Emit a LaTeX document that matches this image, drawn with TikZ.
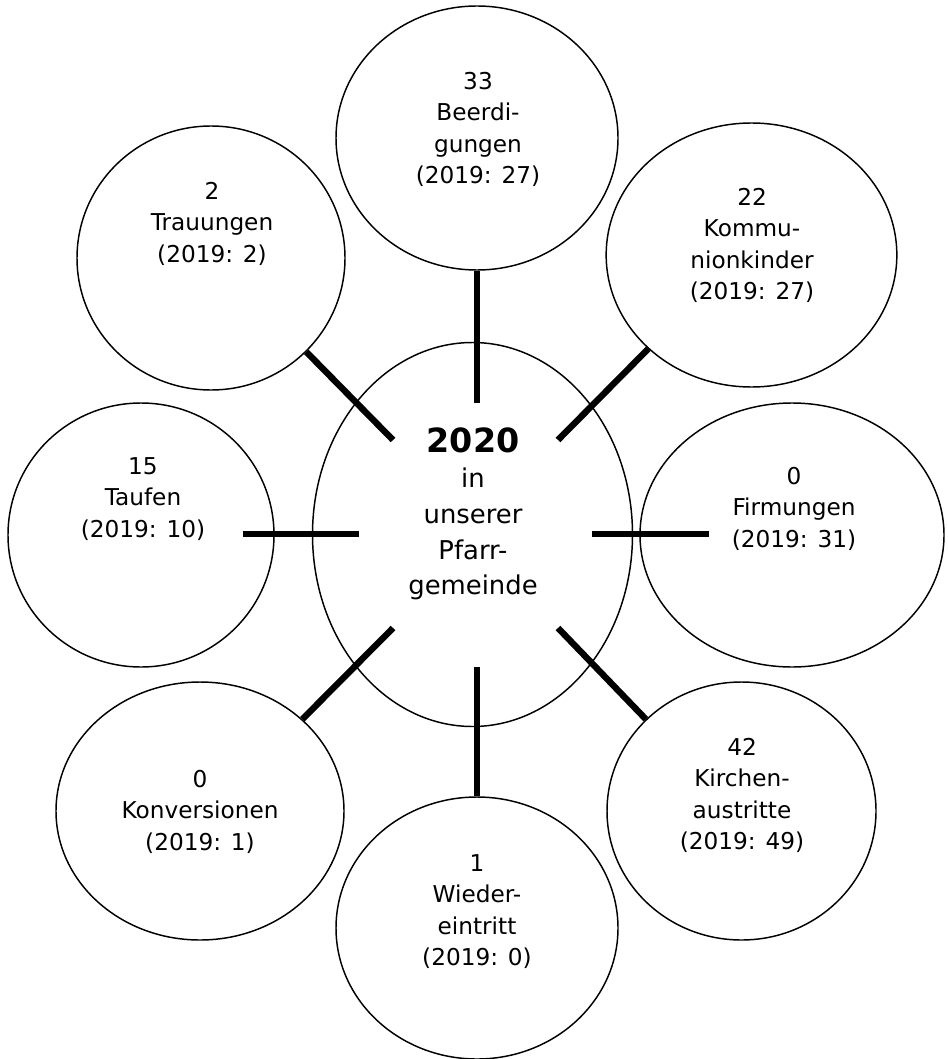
\documentclass[tikz,border=0pt]{standalone}
\usepackage{fontspec}
\setmainfont{DejaVu Sans}
\usepackage{tikz}
\usetikzlibrary{shapes.geometric, positioning}
\tikzstyle{bubble} = [ellipse, draw, line width=1.1pt, inner sep=0pt]
\tikzstyle{count} = [align=center, inner sep=0pt, anchor=north,
                     font=\fontsize{17.4}{23.6}\selectfont]
\tikzstyle{spoke} = [line width=4.8pt]

\begin{document}
\begin{tikzpicture}[x=0.75pt, y=-0.75pt]
    \useasboundingbox (0,0) rectangle (947,1059);

    % Bubbles
    \node[bubble, minimum width=240pt, minimum height=288pt] (mitte) at (472.5,534.5) {};
    \node[bubble, minimum width=211.5pt, minimum height=198pt] (beerdigungen) at (477,138) {};
    \node[bubble, minimum width=201pt, minimum height=198pt] (trauungen) at (211,258) {};
    \node[bubble, minimum width=218pt, minimum height=198pt] (kommunion) at (751.5,255) {};
    \node[bubble, minimum width=199.5pt, minimum height=198pt] (taufen) at (141,535) {};
    \node[bubble, minimum width=228pt, minimum height=198pt] (firmungen) at (792,535) {};
    \node[bubble, minimum width=216pt, minimum height=193.5pt] (konversionen) at (200,811) {};
    \node[bubble, minimum width=201.75pt, minimum height=193.5pt] (austritte) at (741.5,811) {};
    \node[bubble, minimum width=211.5pt, minimum height=196.5pt] (wiedereintritt) at (477,928) {};

    % Texts
    \node[count, font=\fontsize{19.4}{26.8}\selectfont] (mitte-txt) at (473,427)
        {{\fontsize{25}{30}\selectfont\bfseries 2020}\\in\\unserer\\Pfarr-\\gemeinde};
    \node[count] (beerdigungen-txt) at (478,72) {33\\Beerdi-\\gungen\\(2019: 27)};
    \node[count] (trauungen-txt) at (212,182) {2\\Trauungen\\(2019: 2)};
    \node[count] (kommunion-txt) at (752,188) {22\\Kommu-\\nionkinder\\(2019: 27)};
    \node[count] (taufen-txt) at (143,457) {15\\Taufen\\(2019: 10)};
    \node[count] (firmungen-txt) at (794,467) {0\\Firmungen\\(2019: 31)};
    \node[count] (konversionen-txt) at (200,770) {0\\Konversionen\\(2019: 1)};
    \node[count] (austritte-txt) at (742,738) {42\\Kirchen-\\austritte\\(2019: 49)};
    \node[count] (wiedereintritt-txt) at (477,854) {1\\Wieder-\\eintritt\\(2019: 0)};

    % Spoke ends
    \coordinate (mitte-n) at (477,403);
    \coordinate (mitte-s) at (477,667);
    \coordinate (mitte-w) at (359,534);
    \coordinate (mitte-e) at (592,534);
    \coordinate (mitte-nw) at (393,440);
    \coordinate (mitte-ne) at (558,440);
    \coordinate (mitte-sw) at (393,628);
    \coordinate (mitte-se) at (558,628);
    \coordinate (taufen-in) at (243,534);
    \coordinate (firmungen-in) at (709,534);

    % Spokes
    \draw[spoke] (mitte-n) -- (beerdigungen.south);
    \draw[spoke] (mitte-nw) -- (trauungen.south east);
    \draw[spoke] (mitte-ne) -- (kommunion.south west);
    \draw[spoke] (mitte-w) -- (taufen-in);
    \draw[spoke] (mitte-e) -- (firmungen-in);
    \draw[spoke] (mitte-sw) -- (konversionen.north east);
    \draw[spoke] (mitte-se) -- (austritte.north west);
    \draw[spoke] (mitte-s) -- (wiedereintritt.north);
\end{tikzpicture}
\end{document}
